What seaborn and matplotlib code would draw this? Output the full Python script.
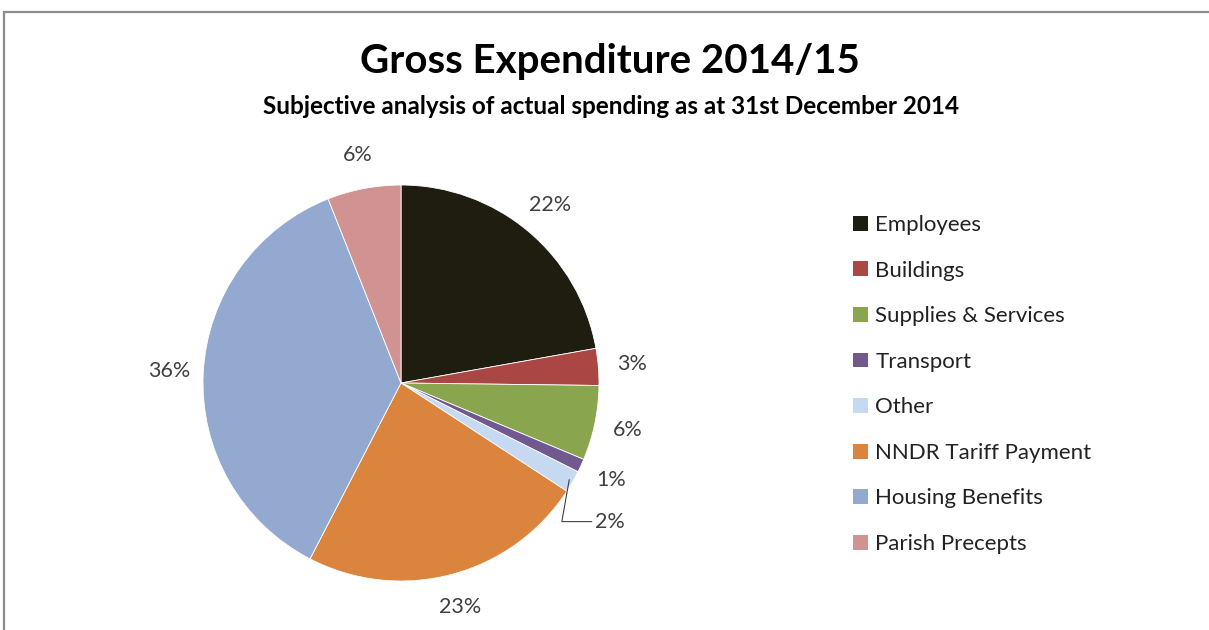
"""
Gross Expenditure 2014/15 - pie chart of spending by subjective heading.
"""

import numpy as np
import matplotlib
matplotlib.use("Agg")
import matplotlib.pyplot as plt
from matplotlib.patches import Patch, Rectangle
import seaborn as sns

sns.set_theme(style="white")
plt.rcParams["font.family"] = ["Lato", "DejaVu Sans"]

# ---------------------------------------------------------
# Data (percent of gross expenditure)
# ---------------------------------------------------------
categories = ["Employees", "Buildings", "Supplies & Services", "Transport",
              "Other", "NNDR Tariff Payment", "Housing Benefits", "Parish Precepts"]
shares = [22.2, 3.0, 6.1, 1.1, 1.8, 23.4, 36.4, 6.0]
colours = ["#1F1C10", "#AA4643", "#89A54E", "#71588F",
           "#C6D9F1", "#DB843D", "#93A9CF", "#D19392"]

title = "Gross Expenditure 2014/15"
subtitle = "Subjective analysis of actual spending as at 31st December 2014"

# ---------------------------------------------------------
# Figure + pie
# ---------------------------------------------------------
W, H = 1209, 630
fig = plt.figure(figsize=(W / 100, H / 100), dpi=100)

# pie centre ~ (401, 383) px, radius ~198 px; axes spans 2.5 radii
R = 198
span = 2.5 * R
ax = fig.add_axes([(401 - span / 2) / W, (H - 383 - span / 2) / H, span / W, span / H])

wedges, _ = ax.pie(shares, colors=colours, startangle=90, counterclock=False,
                   wedgeprops=dict(edgecolor="white", linewidth=0.6))
ax.set_xlim(-1.25, 1.25)
ax.set_ylim(-1.25, 1.25)
ax.set_aspect("equal")
ax.axis("off")

# percentage labels just outside each slice
label_colour = "#404040"
total = sum(shares)
for i, w in enumerate(wedges):
    pct = f"{shares[i] / total * 100:.0f}%"
    mid = np.deg2rad((w.theta1 + w.theta2) / 2)
    if categories[i] == "Other":
        # small slice: label pushed out with a leader line
        edge = (0.98 * np.cos(mid), 0.98 * np.sin(mid))
        ax.annotate(pct, xy=edge, xytext=(0.98, -0.7), ha="left", va="center",
                    fontsize=15.5, color=label_colour,
                    arrowprops=dict(arrowstyle="-", color="#404040", lw=0.8,
                                    shrinkA=0, shrinkB=0,
                                    connectionstyle="angle,angleA=0,angleB=80,rad=0"))
        continue
    r = 1.17
    ax.text(r * np.cos(mid), r * np.sin(mid), pct, ha="center", va="center",
            fontsize=15.5, color=label_colour)

# ---------------------------------------------------------
# Legend
# ---------------------------------------------------------
handles = [Patch(facecolor=c, edgecolor="none") for c in colours]
fig.legend(handles, categories, loc="upper left", bbox_to_anchor=(842 / W, 1 - 204 / H),
           frameon=False, fontsize=16, handlelength=0.65, handleheight=0.65,
           handletextpad=0.35, labelspacing=1.15, borderpad=0, labelcolor="#222222")

# ---------------------------------------------------------
# Titles and chart border
# ---------------------------------------------------------
fig.text(610 / W, 1 - 62 / H, title, ha="center", va="center",
         fontsize=29, fontweight="bold", color="black")
fig.text(611 / W, 1 - 106 / H, subtitle, ha="center", va="center",
         fontsize=17.5, fontweight="bold", color="black")

fig.add_artist(Rectangle((4 / W, -0.1), 1.2, (H - 12) / H + 0.1, transform=fig.transFigure,
                         fill=False, edgecolor="#8C8C8C", linewidth=1.6))

plt.savefig("out.png", dpi=100)
plt.close()
